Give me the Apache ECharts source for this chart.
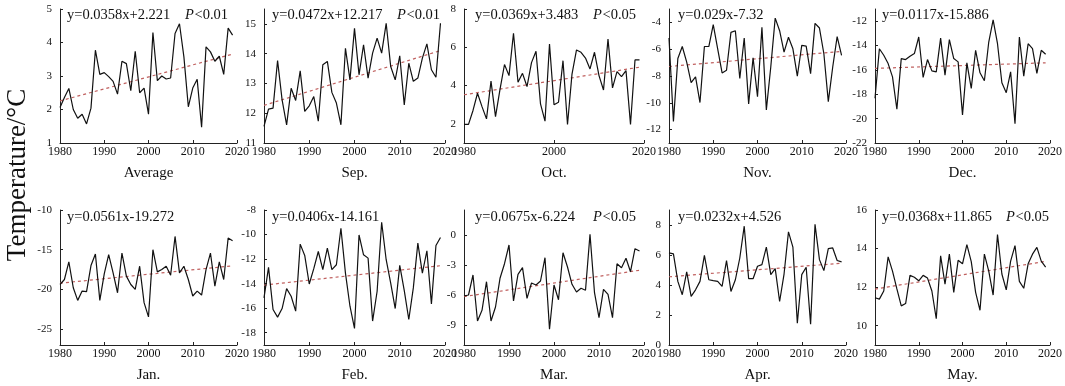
<!DOCTYPE html>
<html>
<head>
<meta charset="utf-8">
<script src="https://cdn.jsdelivr.net/npm/echarts@6/dist/echarts.min.js"></script>
<style>
  html, body { margin: 0; padding: 0; background: #fff; }
  #chart { width: 1065px; height: 386px; }
</style>
</head>
<body>
<div id="chart"></div>
<script>
const years = [1980, 1981, 1982, 1983, 1984, 1985, 1986, 1987, 1988, 1989,
  1990, 1991, 1992, 1993, 1994, 1995, 1996, 1997, 1998, 1999,
  2000, 2001, 2002, 2003, 2004, 2005, 2006, 2007, 2008, 2009,
  2010, 2011, 2012, 2013, 2014, 2015, 2016, 2017, 2018, 2019]

const avgVals = [2.06, 2.36, 2.63, 2.0, 1.74, 1.86, 1.57, 2.04, 3.77, 3.05,
  3.1, 2.98, 2.84, 2.46, 3.44, 3.37, 2.56, 3.74, 2.5, 2.64,
  1.86, 4.3, 2.86, 3.0, 2.91, 2.94, 4.27, 4.56, 3.57, 2.08,
  2.64, 2.9, 1.47, 3.87, 3.72, 3.44, 3.59, 3.05, 4.43, 4.22]
const sepVals = [11.56, 12.14, 12.17, 13.77, 12.45, 11.61, 12.84, 12.43, 13.42, 12.06,
  12.25, 12.56, 11.73, 13.63, 13.74, 12.7, 12.34, 11.61, 14.18, 13.12,
  14.85, 13.29, 14.3, 13.18, 14.02, 14.52, 14.02, 15.02, 13.57, 13.12,
  13.93, 12.28, 13.68, 13.07, 13.18, 13.85, 14.33, 13.46, 13.21, 15.02]
const octVals = [1.97, 1.97, 2.7, 3.6, 2.9, 2.26, 4.23, 2.38, 3.8, 5.1,
  4.52, 6.73, 4.17, 4.64, 3.95, 5.2, 5.79, 3.04, 2.14, 6.17,
  3.0, 3.13, 5.3, 1.97, 4.6, 5.86, 5.74, 5.44, 4.87, 5.74,
  4.52, 3.77, 6.43, 3.88, 4.73, 4.47, 4.78, 1.97, 5.34, 5.34]
const novVals = [-5.16, -11.39, -6.7, -5.8, -6.96, -8.5, -8.06, -9.98, -5.8, -5.8,
  -4.17, -5.97, -7.77, -7.57, -4.74, -4.62, -8.19, -5.16, -10.08, -6.64,
  -9.54, -4.37, -10.53, -7.33, -3.68, -4.62, -6.22, -5.11, -5.97, -8.01,
  -5.72, -5.77, -7.82, -4.07, -4.42, -6.34, -9.91, -7.33, -5.06, -6.46]
const decVals = [-18.33, -14.26, -14.8, -15.48, -16.57, -19.23, -15.07, -15.15, -14.88, -14.66,
  -13.3, -16.62, -15.15, -16.08, -16.16, -13.39, -16.43, -13.52, -15.07, -15.34,
  -19.69, -15.42, -17.52, -14.39, -16.24, -16.89, -13.71, -11.89, -13.85, -17.05,
  -17.87, -16.16, -20.42, -13.3, -16.51, -13.85, -14.26, -16.29, -14.39, -14.72]
const janVals = [-19.38, -18.75, -16.54, -19.79, -21.38, -20.21, -20.29, -17.0, -15.54, -21.38,
  -18.04, -15.63, -17.92, -20.42, -15.42, -18.33, -19.38, -20.0, -17.08, -21.67,
  -23.46, -15.0, -17.79, -17.5, -17.08, -18.21, -13.33, -17.92, -17.08, -18.75,
  -20.83, -20.21, -20.71, -17.5, -15.42, -19.58, -16.54, -18.75, -13.54, -13.88]
const febVals = [-15.16, -12.68, -16.11, -16.73, -16.03, -14.41, -15.03, -16.24, -10.78, -11.7,
  -14.03, -12.78, -11.38, -12.86, -11.11, -12.86, -12.46, -9.49, -13.14, -15.84,
  -17.65, -10.03, -11.65, -11.92, -17.05, -14.62, -9.0, -12.05, -13.95, -16.03,
  -12.51, -14.57, -16.92, -14.35, -10.7, -13.14, -11.32, -15.65, -10.89, -10.24]
const marVals = [-6.1, -6.0, -4.0, -8.6, -7.53, -4.67, -8.6, -7.2, -4.33, -2.87,
  -1.0, -6.6, -3.93, -3.27, -6.33, -4.8, -5.0, -4.6, -2.27, -9.43,
  -5.0, -6.47, -1.77, -3.2, -4.93, -5.7, -5.33, -5.53, 0.07, -5.77,
  -8.27, -5.43, -5.93, -8.27, -2.87, -3.27, -2.33, -3.67, -1.37, -1.6]
const aprVals = [6.14, 6.07, 4.24, 3.35, 4.87, 3.24, 3.68, 4.24, 5.98, 4.35,
  4.29, 4.24, 3.91, 5.63, 3.57, 4.35, 5.8, 7.92, 4.42, 4.42,
  5.25, 5.36, 6.52, 4.69, 5.09, 2.9, 4.73, 7.54, 6.52, 1.45,
  4.69, 5.18, 1.38, 8.04, 5.69, 4.96, 6.43, 6.47, 5.63, 5.54]
const mayVals = [11.45, 11.38, 11.8, 13.57, 12.83, 11.91, 11.03, 11.15, 12.61, 12.51,
  12.33, 12.61, 12.47, 11.8, 10.36, 13.62, 12.16, 13.71, 11.73, 13.39,
  13.21, 14.2, 13.32, 11.73, 10.8, 13.71, 12.83, 11.59, 14.73, 12.68,
  11.86, 13.35, 14.15, 12.3, 11.94, 13.21, 13.71, 14.06, 13.35, 13.04]

const panelNames = ['Average', 'Sep.', 'Oct.', 'Nov.', 'Dec.', 'Jan.', 'Feb.', 'Mar.', 'Apr.', 'May.']
const equations = ['y=0.0358x+2.221', 'y=0.0472x+12.217', 'y=0.0369x+3.483', 'y=0.029x-7.32', 'y=0.0117x-15.886',
  'y=0.0561x-19.272', 'y=0.0406x-14.161', 'y=0.0675x-6.224', 'y=0.0232x+4.526', 'y=0.0368x+11.865']
const pLabels = ['<0.01', '<0.01', '<0.05', '', '', '', '', '<0.05', '', '<0.05']
// trend line values at 1980 and 2019
const trendStart = [2.257, 12.264, 3.52, -7.291, -15.874, -19.216, -14.12, -6.157, 4.549, 11.902]
const trendEnd = [3.653, 14.105, 4.959, -6.16, -15.418, -17.028, -12.537, -3.524, 5.454, 13.337]
const yMin = [1, 11, 1, -13, -22, -27, -19, -11, 0, 9]
const yMax = [5, 15.5, 8, -3, -11, -10, -8, 2.5, 9, 16]
const yTicks = [
  [1, 2, 3, 4, 5], [11, 12, 13, 14, 15], [2, 4, 6, 8], [-12, -10, -8, -6, -4], [-22, -20, -18, -16, -14, -12],
  [-25, -20, -15, -10], [-18, -16, -14, -12, -10, -8], [-9, -6, -3, 0], [0, 2, 4, 6, 8], [10, 12, 14, 16]
]
const xTicksDecade = [1980, 1990, 2000, 2010, 2020]
const xTicksOct = [1980, 2000, 2020]

const seriesVals = [avgVals, sepVals, octVals, novVals, decVals, janVals, febVals, marVals, aprVals, mayVals]

// layout
const colLeft = [60, 264, 464, 669, 875]
const colRight = [237, 445, 644, 846, 1054]
const rowTop = [9, 210]
const rowBottom = [143, 345]
const eqX = [67, 272, 475, 678, 882]
const pX = [185, 397, 593, 0, 0, 0, 0, 593, 0, 1006]
const eqY = [15, 217]

const FONT = '"Liberation Serif", "Times New Roman", serif'
const INK = '#111'

const grid = [], xAxis = [], yAxis = [], series = [], graphic = []

for (let i = 0; i < 10; i++) {
  const r = Math.floor(i / 5)
  const c = i % 5
  grid.push({
    left: colLeft[c],
    top: rowTop[r],
    width: colRight[c] - colLeft[c],
    height: rowBottom[r] - rowTop[r]
  })
  const xt = i === 2 ? xTicksOct : xTicksDecade
  xAxis.push({
    type: 'value',
    gridIndex: i,
    min: 1980,
    max: 2020,
    name: panelNames[i],
    nameLocation: 'middle',
    nameGap: 23,
    nameTextStyle: { fontFamily: FONT, fontSize: 15, color: INK },
    axisLine: { onZero: false, lineStyle: { color: '#222', width: 1 } },
    axisTick: { inside: true, length: 3, customValues: xt, lineStyle: { color: '#222' } },
    axisLabel: { customValues: xt, formatter: v => String(v), fontFamily: FONT, fontSize: 12, color: INK, margin: 3 },
    splitLine: { show: false }
  })
  yAxis.push({
    type: 'value',
    gridIndex: i,
    min: yMin[i],
    max: yMax[i],
    axisLine: { show: true, onZero: false, lineStyle: { color: '#222', width: 1 } },
    axisTick: { show: true, inside: true, length: 3, customValues: yTicks[i], lineStyle: { color: '#222' } },
    axisLabel: { customValues: yTicks[i], fontFamily: FONT, fontSize: 11, color: INK, margin: 8 },
    splitLine: { show: false }
  })
  series.push({
    type: 'line',
    xAxisIndex: i,
    yAxisIndex: i,
    data: years.map((y, k) => [y, seriesVals[i][k]]),
    symbol: 'none',
    lineStyle: { color: INK, width: 1.2 },
    silent: true,
    z: 3
  })
  series.push({
    type: 'line',
    xAxisIndex: i,
    yAxisIndex: i,
    data: [[years[0], trendStart[i]], [years[years.length - 1], trendEnd[i]]],
    symbol: 'none',
    lineStyle: { color: '#c0605f', width: 1.2, type: [3, 3] },
    silent: true,
    z: 2
  })
  graphic.push({
    type: 'text',
    x: eqX[c],
    y: eqY[r],
    style: { text: equations[i], font: '14.5px ' + FONT, fill: INK, verticalAlign: 'middle' }
  })
  if (pLabels[i]) {
    graphic.push({
      type: 'text',
      x: pX[i],
      y: eqY[r],
      style: { text: 'P', font: 'italic 14.5px ' + FONT, fill: INK, verticalAlign: 'middle' }
    })
    graphic.push({
      type: 'text',
      x: pX[i] + 9.5,
      y: eqY[r],
      style: { text: pLabels[i], font: '14.5px ' + FONT, fill: INK, verticalAlign: 'middle' }
    })
  }
}

graphic.push({
  type: 'text',
  x: 18,
  y: 175,
  rotation: Math.PI / 2,
  style: { text: 'Temperature/°C', font: '27px ' + FONT, fill: INK, align: 'center', verticalAlign: 'middle' }
})

const chart = echarts.init(document.getElementById('chart'), null, { renderer: 'canvas' })
chart.setOption({
  animation: false,
  backgroundColor: '#fff',
  grid,
  xAxis,
  yAxis,
  series,
  graphic
})
</script>
</body>
</html>
